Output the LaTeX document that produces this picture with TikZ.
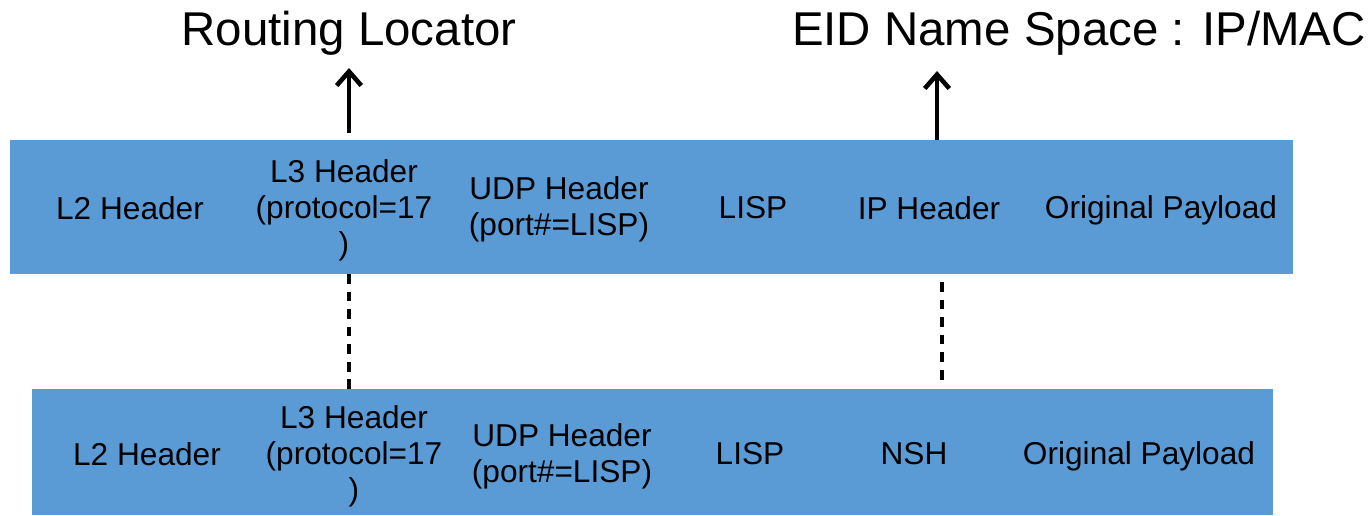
\documentclass[tikz,border=0pt]{standalone}
\usepackage{fontspec}
\setmainfont{Liberation Sans}
\usetikzlibrary{arrows.meta}
\definecolor{hdrblue}{HTML}{5B9BD5}

\begin{document}
\begin{tikzpicture}[x=0.02cm,y=-0.02cm,
  fld/.style={align=center,font=\fontsize{18}{20.4}\selectfont,inner sep=0},
  ttl/.style={font=\fontsize{27}{30}\selectfont,inner sep=0},
  pil/.style={line width=2.4pt,-{Straight Barb[length=8pt,width=14pt,line width=2.6pt]}},
  stipl/.style={line width=2pt,dash pattern=on 5.5pt off 4.5pt}]

  \useasboundingbox (0,0) rectangle (1371,515);

  %overskrifter
	\node[ttl] (rloc) at (349,33) {Routing Locator};
	\node[ttl] (eid) at (1079,33) {EID Name Space : IP/MAC};

  %pakke 1 (LISP)
	\fill[hdrblue] (10,140) rectangle (1293,274);
	\node[fld] (l2a) at (130,208) {L2 Header};
	\node[fld] (l3a) at (344,210) {L3 Header\\(protocol=17\\)};
	\node[fld] (udpa) at (559,209) {UDP Header\\(port\#=LISP)};
	\node[fld] (lispa) at (753,208) {LISP};
	\node[fld] (ipa) at (929,208) {IP Header};
	\node[fld] (pla) at (1161,210) {Original Payload};

  %pakke 2 (NSH)
	\fill[hdrblue] (32,389) rectangle (1273,515);
	\node[fld] (l2b) at (147,454) {L2 Header};
	\node[fld] (l3b) at (354,456) {L3 Header\\(protocol=17\\)};
	\node[fld] (udpb) at (562,456) {UDP Header\\(port\#=LISP)};
	\node[fld] (lispb) at (750,454) {LISP};
	\node[fld] (nshb) at (914,454) {NSH};
	\node[fld] (plb) at (1139,456) {Original Payload};

  %pile op
	\coordinate (rfod) at (349,133);
	\coordinate (rtop) at (349,68);
	\coordinate (efod) at (937,140);
	\coordinate (etop) at (937,71);
	\draw[pil] (rfod) -- (rtop);
	\draw[pil] (efod) -- (etop);

  %stiplede linjer
	\coordinate (v1) at (349,274);
	\coordinate (v2) at (349,389);
	\coordinate (h1) at (942,282);
	\coordinate (h2) at (942,385);
	\draw[stipl] (v1) -- (v2);
	\draw[stipl] (h1) -- (h2);

\end{tikzpicture}
\end{document}
